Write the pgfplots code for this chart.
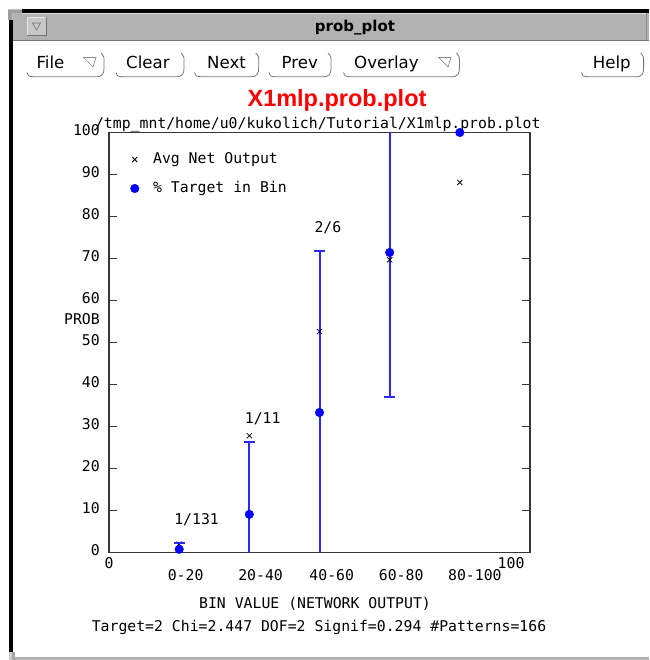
\documentclass[border=0pt]{standalone}
\usepackage{pgfplots}
\pgfplotsset{compat=1.18}
\usepackage{pgfplotstable}
\usepackage{fontspec}
\setmainfont{DejaVu Sans}
\newfontfamily\monofont{DejaVu Sans Mono}
\newfontfamily\uifont{DejaVu Sans}
\newfontfamily\headfont{Liberation Sans}

\definecolor{barblue}{RGB}{40,40,255}
\definecolor{dotblue}{RGB}{0,0,255}
\definecolor{titlegray}{RGB}{178,178,178}
\definecolor{btngray}{RGB}{120,120,120}
\definecolor{axisgray}{RGB}{55,55,55}

\newcommand\plotfont{\monofont\fontsize{14.8}{17}\selectfont}

% average network output in each bin
\pgfplotstableread{
x      avg
16.67  2.0
33.33  27.8
50.00  52.6
66.67  69.7
83.33  88.1
}\avgtable

% percentage of targets in each bin
\pgfplotstableread{
x      pct
16.67  0.76
33.33  9.09
50.00  33.33
66.67  71.43
83.33  100.0
}\pcttable

% a rounded push button: left edge, right edge, label, label start
\newcommand\button[4]{%
  \draw[btngray, line width=0.8pt]
    (#1,72.5) .. controls (#1+1.5,76.5) .. (#1+8,76.8) -- (#2-8,76.8)
    .. controls (#2-1,76.8) and (#2,73) .. (#2,68) -- (#2,61)
    .. controls (#2,56.5) .. (#2-3,53);
  \node[anchor=base west, inner sep=0pt, font=\uifont\fontsize{16.6}{18}\selectfont]
    at (#4,68.6) {#3};}
\newcommand\menutri[1]{%
  \draw[black!45, line width=0.7pt] (#1,57.5) -- (#1+12.5,57.5) -- (#1+9.5,67) -- cycle;}

\begin{document}
\begin{tikzpicture}
\useasboundingbox (0,0) rectangle (649pt,-660pt);
\fill[white] (0,0) rectangle (649pt,-660pt);

\begin{scope}[x=1pt,y=-1pt]
  % window frame and title bar
  \fill[titlegray] (12.5,13) rectangle (649,40);
  \draw[white!88!black, line width=0.8pt] (22,13.8) -- (646,13.8);
  \draw[black!45, line width=0.8pt] (646.5,13.5) -- (646.5,40);
  \draw[black!55, line width=1pt] (12.5,40.5) -- (649,40.5);
  \fill[black] (22,9.5) rectangle (649,13);
  \fill[black] (9,20) rectangle (12.5,652);
  \fill[black!38] (8,9.5) -- (22,9.5) -- (22,13) -- (12.5,13) -- (12.5,20) -- (8,20) -- cycle;
  \fill[black!30] (12,656.5) rectangle (649,659.5);
  \fill[black!35] (12,651.5) rectangle (15,660);
  \fill[black!20] (9,652) rectangle (12,660);
  % window menu box
  \fill[black!22] (27,17) rectangle (46,35);
  \draw[white!90!black, line width=0.8pt] (27,35) -- (27,17) -- (46,17);
  \draw[black!55, line width=0.8pt] (27,35) -- (46,35) -- (46,17);
  \draw[black!55, line width=0.6pt] (32.5,23) -- (40.5,23) -- (36.5,30) -- cycle;
  \node[font=\uifont\bfseries\fontsize{15}{17}\selectfont, anchor=base, inner sep=0pt]
    at (355,31.5) {prob\_plot};

  % button row
  \button{27}{104}{File}{36.4}
  \menutri{83.5}
  \button{116}{184}{Clear}{126}
  \button{194.5}{258.7}{Next}{207}
  \button{269}{331}{Prev}{281.5}
  \button{343.5}{459.4}{Overlay}{354}
  \menutri{438.5}
  \button{581.5}{643.6}{Help}{592.7}

  % headings
  \node[anchor=base, inner sep=0pt, text=red,
        font=\headfont\bfseries\fontsize{23.5}{26}\selectfont] at (337,106.2) {X1mlp.prob.plot};
  \node[anchor=base, inner sep=0pt, font=\plotfont] at (317.8,128.6)
    {/tmp\_mnt/home/u0/kukolich/Tutorial/X1mlp.prob.plot};
  \node[anchor=base, inner sep=0pt, font=\plotfont] at (315,608.3)
    {BIN VALUE (NETWORK OUTPUT)};
  \node[anchor=base, inner sep=0pt, font=\plotfont] at (319,631.6)
    {Target=2 Chi=2.447 DOF=2 Signif=0.294 \#Patterns=166};
  \node[anchor=base east, inner sep=0pt, font=\plotfont] at (100,324.3) {PROB};
\end{scope}

\begin{axis}[
  at={(109pt,-552.5pt)}, anchor=south west,
  scale only axis, width=421pt, height=420pt,
  xmin=0, xmax=100, ymin=0, ymax=100,
  axis line style={axisgray, line width=1.3pt},
  every tick/.style={axisgray, line width=1.2pt},
  tick align=inside, major tick length=8pt,
  ytick={0,10,...,100},
  yticklabel style={font=\plotfont, anchor=base east, inner sep=0pt,
                    xshift=-9pt, yshift=-3pt},
  /pgf/number format/assume math mode=true,
  xtick={18.2,36.0,52.9,69.4,86.9},
  xticklabels={0-20,20-40,40-60,60-80,80-100},
  xtick style={draw=none},
  xticklabel style={font=\plotfont, anchor=base, inner sep=0pt, yshift=-27.5pt},
  extra x ticks={0,95.5},
  extra x tick labels={0,100},
  extra x tick style={xtick style={draw=none}, xticklabel style={yshift=11.7pt}},
  legend style={draw=none, fill=none, inner sep=0pt, outer sep=0pt,
                at={(rel axis cs:0,1)}, anchor=north west, xshift=21.5pt, yshift=-20pt,
                font=\plotfont, row sep=15pt, column sep=14pt,
                nodes={inner sep=0pt, text height=11pt, text depth=3pt}},
  legend cell align=left,
]
\addplot[only marks, mark=x, mark size=3.6pt, mark options={black, line width=0.8pt}]
  table[x=x, y=avg] {\avgtable};
\addlegendentry{Avg Net Output}

% confidence limits of the target percentage in each bin
\addplot[forget plot, draw=barblue, color=barblue, line width=2pt, mark=-, mark size=5.5pt,
  mark indices={2}, mark options={solid, draw=barblue, line width=1.8pt}]
  coordinates {(16.67,0) (16.67,2.2)};
\addplot[forget plot, draw=barblue, color=barblue, line width=2pt, mark=-, mark size=5.5pt,
  mark indices={2}, mark options={solid, draw=barblue, line width=1.8pt}]
  coordinates {(33.33,0) (33.33,26.4)};
\addplot[forget plot, draw=barblue, color=barblue, line width=2pt, mark=-, mark size=5.5pt,
  mark indices={2}, mark options={solid, draw=barblue, line width=1.8pt}]
  coordinates {(50.00,0) (50.00,71.7)};
\addplot[forget plot, draw=barblue, color=barblue, line width=2pt, mark=-, mark size=5.5pt,
  mark indices={1}, mark options={solid, draw=barblue, line width=1.8pt}]
  coordinates {(66.67,37.1) (66.67,100)};

\addplot[only marks, mark=*, mark size=4.3pt, mark options={dotblue, fill=dotblue}]
  table[x=x, y=pct] {\pcttable};
\addlegendentry{\% Target in Bin}

% bin counts above the upper limits
\node[font=\plotfont, inner sep=0pt, anchor=base] at (axis cs:20.8,6.6) {1/131};
\node[font=\plotfont, inner sep=0pt, anchor=base] at (axis cs:36.5,30.8) {1/11};
\node[font=\plotfont, inner sep=0pt, anchor=base] at (axis cs:52.0,76.3) {2/6};
\end{axis}
\end{tikzpicture}
\end{document}
